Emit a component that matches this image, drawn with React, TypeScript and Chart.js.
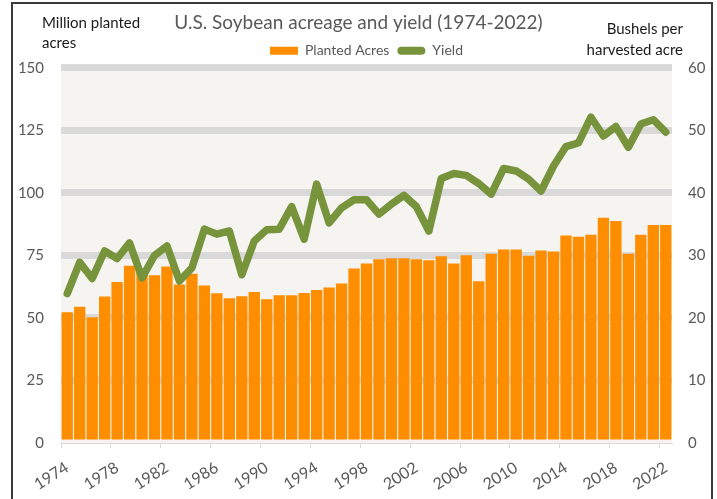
import { useEffect, useRef } from 'react';
import { Chart, registerables } from 'chart.js';

Chart.register(...registerables);

const years = [
  '1974', '1975', '1976', '1977', '1978', '1979', '1980', '1981', '1982', '1983',
  '1984', '1985', '1986', '1987', '1988', '1989', '1990', '1991', '1992', '1993',
  '1994', '1995', '1996', '1997', '1998', '1999', '2000', '2001', '2002', '2003',
  '2004', '2005', '2006', '2007', '2008', '2009', '2010', '2011', '2012', '2013',
  '2014', '2015', '2016', '2017', '2018', '2019', '2020', '2021', '2022',
];

const shownYears = ['1974', '1978', '1982', '1986', '1990', '1994', '1998', '2002', '2006', '2010', '2014', '2018', '2022'];

const plantedAcres = [
  52.3, 54.5, 50.3, 58.6, 64.4, 70.9, 69.5, 67.1, 70.6, 63.4,
  67.7, 63.0, 59.9, 57.9, 58.7, 60.4, 57.5, 59.1, 59.1, 60.0,
  61.2, 62.2, 63.8, 69.8, 71.8, 73.5, 73.9, 73.9, 73.5, 73.1,
  74.7, 71.8, 75.1, 64.7, 75.7, 77.4, 77.4, 74.9, 77.0, 76.6,
  83.0, 82.5, 83.3, 90.1, 88.8, 75.7, 83.3, 87.2, 87.2,
];

const yieldBu = [
  23.9, 28.9, 26.3, 30.7, 29.5, 32.0, 26.4, 30.0, 31.5, 25.9,
  28.0, 34.2, 33.4, 33.9, 26.9, 32.3, 34.1, 34.2, 37.8, 32.6,
  41.4, 35.2, 37.6, 38.9, 38.9, 36.6, 38.2, 39.6, 37.8, 33.9,
  42.3, 43.1, 42.8, 41.5, 39.8, 43.9, 43.5, 42.2, 40.3, 44.3,
  47.4, 48.0, 52.1, 49.1, 50.6, 47.3, 51.0, 51.7, 49.7,
];

const titleText = 'U.S. Soybean acreage and yield (1974-2022)';
const leftAxisTitle = ['Million planted', 'acres'];
const rightAxisTitle = ['Bushels per', 'harvested acre'];

const ORANGE = '#fe8d00';
const GREEN = '#77933c';
const GRID = '#d9d9d9';
const TEXT = '#595959';
const FONT = 'Lato';

const bgPlugin = {
  id: 'plotBg',
  beforeDraw(chart: any) {
    const { ctx, chartArea } = chart;
    ctx.save();
    ctx.fillStyle = '#f5f4f0';
    ctx.fillRect(chartArea.left, chartArea.top, chartArea.right - chartArea.left, chartArea.bottom - chartArea.top);
    ctx.restore();
  },
};

const axisTitlePlugin = {
  id: 'axisTitles',
  afterDraw(chart: any) {
    const { ctx } = chart;
    ctx.save();
    ctx.fillStyle = '#1a1a1a';
    ctx.font = `15px ${FONT}`;
    ctx.textBaseline = 'alphabetic';
    ctx.textAlign = 'left';
    ctx.fillText(leftAxisTitle[0], 42, 28);
    ctx.fillText(leftAxisTitle[1], 42, 48);
    ctx.textAlign = 'right';
    ctx.fillText(rightAxisTitle[0], 683, 34);
    ctx.fillText(rightAxisTitle[1], 683, 54.5);
    ctx.restore();
  },
};

export default function App() {
  const canvasRef = useRef<HTMLCanvasElement | null>(null);

  useEffect(() => {
    if (!canvasRef.current) return;
    const chart = new Chart(canvasRef.current, {
      type: 'bar',
      data: {
        labels: years,
        datasets: [
          {
            type: 'bar',
            label: 'Planted Acres',
            data: plantedAcres,
            backgroundColor: ORANGE,
            yAxisID: 'y',
            order: 2,
            barPercentage: 0.91,
            categoryPercentage: 1,
          } as any,
          {
            type: 'line',
            label: 'Yield',
            data: yieldBu,
            borderColor: GREEN,
            backgroundColor: GREEN,
            borderWidth: 7.5,
            pointRadius: 0,
            tension: 0,
            borderJoinStyle: 'round',
            borderCapStyle: 'round',
            yAxisID: 'y1',
            order: 1,
          } as any,
        ],
      },
      options: {
        responsive: false,
        animation: false,
        devicePixelRatio: 1,
        layout: { padding: { top: 2, left: 0, right: 0, bottom: 0 } },
        font: { family: FONT },
        plugins: {
          tooltip: { enabled: false },
          title: {
            display: true,
            text: titleText,
            color: TEXT,
            font: { family: FONT, size: 19, weight: 'normal' },
            padding: { top: 9, bottom: 2 },
          },
          legend: {
            display: true,
            position: 'top',
            fullSize: false,
            labels: {
              color: TEXT,
              font: { family: FONT, size: 14 },
              boxWidth: 28,
              boxHeight: 8,
              padding: 8,
              useBorderRadius: true,
              generateLabels: () => [
                { text: 'Planted Acres', fillStyle: ORANGE, strokeStyle: ORANGE, lineWidth: 0, datasetIndex: 0, hidden: false, fontColor: TEXT },
                { text: 'Yield', fillStyle: GREEN, strokeStyle: GREEN, lineWidth: 0, datasetIndex: 1, hidden: false, borderRadius: 4, fontColor: TEXT },
              ],
            },
          },
        },
        scales: {
          x: {
            offset: true,
            afterFit: (scale: any) => { scale.height = 56; },
            grid: {
              display: true,
              offset: true,
              drawOnChartArea: false,
              drawTicks: true,
              tickLength: 5,
              color: (ctx: any) => (ctx.index % 4 === 0 ? GRID : 'rgba(0,0,0,0)'),
              lineWidth: 1,
            },
            border: { display: true, color: GRID, width: 1 },
            ticks: {
              autoSkip: false,
              maxRotation: 32,
              minRotation: 32,
              padding: 10,
              color: TEXT,
              font: { family: FONT, size: 16 },
              callback: (_v: any, i: number) => (shownYears.includes(years[i]) ? years[i] : ''),
            },
          },
          y: {
            position: 'left',
            min: 0,
            max: 150,
            afterFit: (scale: any) => { scale.width = 61; },
            ticks: { stepSize: 25, color: TEXT, font: { family: FONT, size: 15 }, padding: 17 },
            grid: {
              color: (ctx: any) => (ctx.tick && ctx.tick.value === 0 ? 'rgba(0,0,0,0)' : GRID),
              lineWidth: 7,
              drawTicks: false,
            },
            border: { display: false },
          },
          y1: {
            position: 'right',
            min: 0,
            max: 60,
            afterFit: (scale: any) => { scale.width = 45; },
            ticks: { stepSize: 10, color: TEXT, font: { family: FONT, size: 15 }, padding: 16 },
            grid: { drawOnChartArea: false, drawTicks: false },
            border: { display: false },
          },
        },
      } as any,
      plugins: [bgPlugin, axisTitlePlugin],
    });
    return () => chart.destroy();
  }, []);

  return (
    <div style={{ position: 'absolute', left: 0, top: 0, width: 717, height: 499, overflow: 'hidden', background: '#ffffff' }}>
      <canvas ref={canvasRef} width={717} height={499} style={{ display: 'block', width: 717, height: 499 }} />
      <div
        style={{
          position: 'absolute',
          left: 11,
          top: 2,
          width: 702,
          height: 600,
          boxSizing: 'border-box',
          border: '2px solid #3a3a3a',
          pointerEvents: 'none',
        }}
      />
    </div>
  );
}
